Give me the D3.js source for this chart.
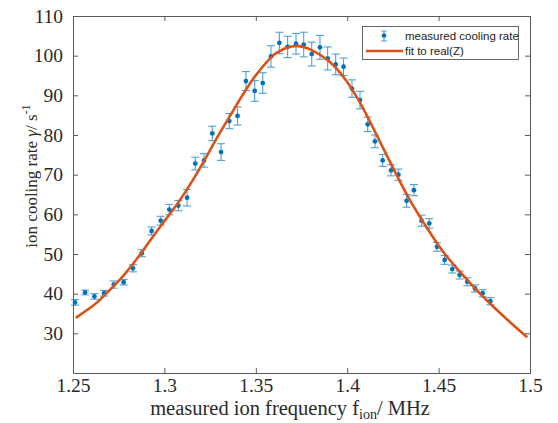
<!DOCTYPE html>
<html>
<head>
<meta charset="utf-8">
<script src="https://cdn.jsdelivr.net/npm/d3@7.9.0/dist/d3.min.js"></script>
<style>
  body { margin: 0; background: #fff; }
  svg { display: block; }
</style>
</head>
<body>
<svg id="chart" width="558" height="423"></svg>
<script>
// measured points
const freq = [1.2511, 1.2566, 1.2617, 1.2670, 1.2723, 1.2777, 1.2828, 1.2876, 1.2930, 1.2980,
  1.3027, 1.3076, 1.3124, 1.3169, 1.3217, 1.3262, 1.3310, 1.3355, 1.3400, 1.3446,
  1.3494, 1.3538, 1.3583, 1.3629, 1.3674, 1.3720, 1.3762, 1.3806, 1.3851, 1.3893,
  1.3937, 1.3980, 1.4026, 1.4070, 1.4112, 1.4152, 1.4194, 1.4240, 1.4280, 1.4325,
  1.4365, 1.4407, 1.4449, 1.4491, 1.4533, 1.4575, 1.4615, 1.4657, 1.4699, 1.4741, 1.4783];
const rate = [37.8, 40.3, 39.3, 40.1, 42.3, 42.9, 46.4, 50.2, 55.8, 58.4,
  61.2, 62.2, 64.2, 72.8, 73.6, 80.4, 75.7, 83.5, 84.8, 93.6,
  91.1, 93.1, 99.8, 103.2, 102.2, 103.0, 102.8, 100.4, 102.1, 99.3,
  97.8, 97.2, 91.7, 88.8, 82.7, 78.4, 73.6, 71.1, 70.0, 63.4,
  66.1, 58.4, 57.7, 51.8, 48.5, 46.2, 44.7, 43.0, 41.3, 40.1, 38.1];
const rateErr = [0.7, 0.6, 0.7, 0.7, 0.9, 0.7, 0.9, 0.9, 1.0, 1.1,
  1.3, 1.3, 2.1, 1.6, 1.7, 1.8, 2.1, 1.9, 2.3, 2.4,
  2.6, 2.6, 2.7, 2.7, 2.7, 2.6, 3.1, 3.0, 3.0, 2.9,
  2.6, 2.2, 2.2, 2.2, 1.8, 1.6, 1.5, 1.4, 1.4, 1.6,
  1.4, 1.4, 1.2, 1.1, 1.1, 1.0, 1.0, 1.0, 0.9, 0.9, 0.9];

// fit curve, sampled off the plot
const fitFreq = [1.2515, 1.2611, 1.2666, 1.2720, 1.2775, 1.2830, 1.2885, 1.2976, 1.3067, 1.3158,
  1.3250, 1.3304, 1.3395, 1.3486, 1.3578, 1.3620, 1.3669, 1.3733, 1.3806, 1.3897, 1.3988,
  1.4079, 1.4161, 1.4252, 1.4343, 1.4435, 1.4526, 1.4617, 1.4708, 1.4800, 1.4891, 1.4985];
const fitRate = [33.9, 37.0, 39.3, 41.8, 44.5, 47.6, 51.0, 56.8, 62.4, 68.8,
  76.2, 80.6, 87.6, 94.2, 99.3, 100.9, 102.0, 102.4, 101.4, 98.7, 94.1,
  87.4, 80.0, 71.6, 63.6, 56.7, 50.5, 45.5, 40.9, 36.7, 32.8, 29.0];

const xTicks = [1.25, 1.3, 1.35, 1.4, 1.45, 1.5];
const xTickLabels = ['1.25', '1.3', '1.35', '1.4', '1.45', '1.5'];
const yTicks = [30, 40, 50, 60, 70, 80, 90, 100, 110];

const mLeft = 73, mRight = 530, mTop = 16, mBottom = 373;
const blue = '#0072BD', barBlue = '#4fa0d8', orange = '#D95319', axisCol = '#5a5a5a';

const svg = d3.select('#chart');
const x = d3.scaleLinear().domain([1.25, 1.5]).range([mLeft, mRight]);
const y = d3.scaleLinear().domain([20, 110]).range([mBottom, mTop]);

const points = freq.map((f, i) => ({ f, v: rate[i], e: rateErr[i] }));
const fit = fitFreq.map((f, i) => ({ f, v: fitRate[i] }));

// error bars
const bars = svg.append('g').attr('stroke', barBlue).attr('stroke-width', 1.1).attr('fill', 'none');
points.forEach(d => {
  const cx = x(d.f), y0 = y(d.v - d.e), y1 = y(d.v + d.e);
  bars.append('line').attr('x1', cx).attr('x2', cx).attr('y1', y0).attr('y2', y1);
  bars.append('line').attr('x1', cx - 4).attr('x2', cx + 4).attr('y1', y0).attr('y2', y0);
  bars.append('line').attr('x1', cx - 4).attr('x2', cx + 4).attr('y1', y1).attr('y2', y1);
});

svg.append('g').selectAll('circle').data(points).join('circle')
  .attr('cx', d => x(d.f)).attr('cy', d => y(d.v)).attr('r', 2.4).attr('fill', blue);

svg.append('path').datum(fit)
  .attr('fill', 'none').attr('stroke', orange).attr('stroke-width', 2.6)
  .attr('d', d3.line().x(d => x(d.f)).y(d => y(d.v)).curve(d3.curveNatural));

// axes box, MATLAB style with ticks inside on all sides
function styleAxis(g) {
  g.select('.domain').attr('stroke', axisCol);
  g.selectAll('.tick line').attr('stroke', axisCol);
  g.selectAll('.tick text').attr('fill', '#2a2a2a')
    .attr('font-family', '"Liberation Serif", serif').attr('font-size', 19.5);
}
const tickLen = 5;
svg.append('g').attr('transform', `translate(0,${mBottom})`)
  .call(d3.axisBottom(x).tickValues(xTicks).tickFormat((d, i) => xTickLabels[i])
    .tickSizeInner(-tickLen).tickSizeOuter(0).tickPadding(5))
  .call(styleAxis);
svg.append('g').attr('transform', `translate(0,${mTop})`)
  .call(d3.axisTop(x).tickValues(xTicks).tickFormat('').tickSizeInner(-tickLen).tickSizeOuter(0))
  .call(styleAxis);
svg.append('g').attr('transform', `translate(${mLeft},0)`)
  .call(d3.axisLeft(y).tickValues(yTicks).tickSizeInner(-tickLen).tickSizeOuter(0).tickPadding(10))
  .call(styleAxis);
svg.append('g').attr('transform', `translate(${mRight},0)`)
  .call(d3.axisRight(y).tickValues(yTicks).tickFormat('').tickSizeInner(-tickLen).tickSizeOuter(0))
  .call(styleAxis);

// axis labels
const xl = svg.append('text').attr('x', 290).attr('y', 415)
  .attr('text-anchor', 'middle').attr('fill', '#2a2a2a')
  .attr('font-family', '"Liberation Serif", serif').attr('font-size', 20.5);
xl.append('tspan').text('measured ion frequency f');
xl.append('tspan').attr('font-size', 14).attr('dy', 4).text('ion');
xl.append('tspan').attr('dy', -4).text('/ MHz');

const yl = svg.append('text').attr('transform', `translate(37,176) rotate(-90)`)
  .attr('text-anchor', 'middle').attr('fill', '#2a2a2a')
  .attr('font-family', '"Liberation Serif", serif').attr('font-size', 17);
yl.append('tspan').text('ion cooling rate ');
yl.append('tspan').attr('font-style', 'italic').text('γ');
yl.append('tspan').text('/ s');
yl.append('tspan').attr('font-size', 12).attr('dy', -7).text('-1');

// legend
const lg = svg.append('g');
lg.append('rect').attr('x', 362.5).attr('y', 26.5).attr('width', 156).attr('height', 33)
  .attr('fill', '#fff').attr('stroke', '#444').attr('stroke-width', 0.8);
lg.append('line').attr('x1', 384).attr('x2', 384).attr('y1', 31).attr('y2', 41).attr('stroke', barBlue);
lg.append('line').attr('x1', 381).attr('x2', 387).attr('y1', 31).attr('y2', 31).attr('stroke', barBlue);
lg.append('line').attr('x1', 381).attr('x2', 387).attr('y1', 41).attr('y2', 41).attr('stroke', barBlue);
lg.append('circle').attr('cx', 384).attr('cy', 35.5).attr('r', 2.3).attr('fill', blue);
lg.append('line').attr('x1', 366).attr('x2', 403).attr('y1', 51).attr('y2', 51)
  .attr('stroke', orange).attr('stroke-width', 2.6);
lg.selectAll('text.leg').data(['measured cooling rate', 'fit to real(Z)']).join('text')
  .attr('x', 405).attr('y', (d, i) => 40 + i * 15)
  .attr('font-family', '"Liberation Sans", Arial, sans-serif').attr('font-size', 11.5)
  .attr('fill', '#222').text(d => d);
</script>
</body>
</html>
